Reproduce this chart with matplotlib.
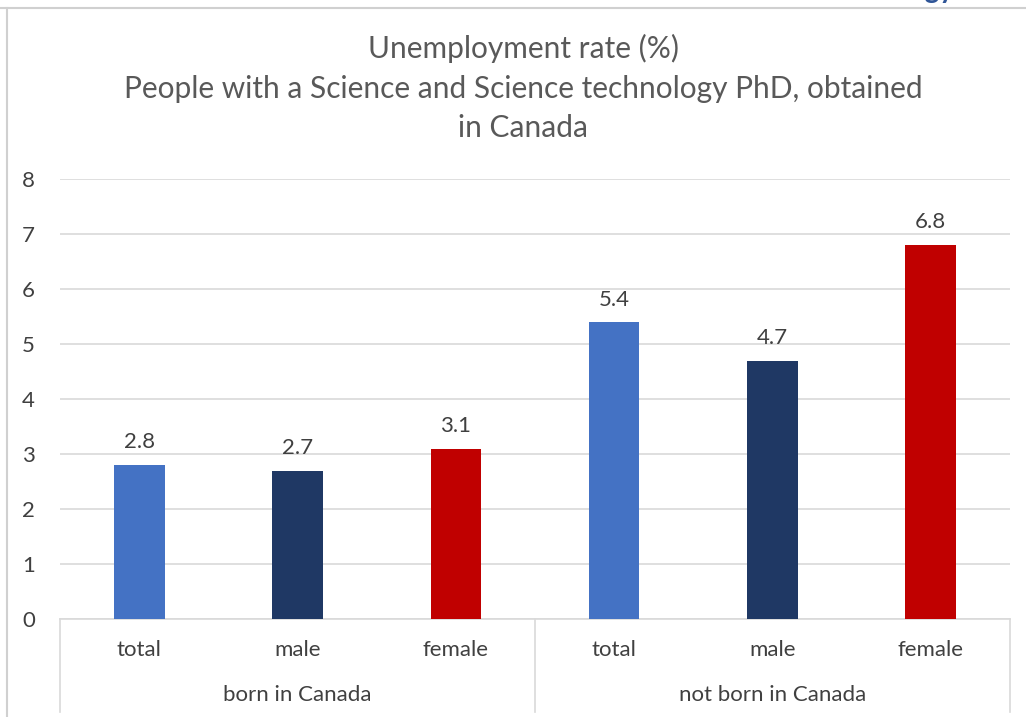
import matplotlib
matplotlib.use("Agg")
import matplotlib.pyplot as plt
import matplotlib.transforms as mtransforms
from matplotlib.lines import Line2D

plt.rcParams['font.family'] = ['Lato', 'DejaVu Sans']

groups = ["born in Canada", "not born in Canada"]
categories = ["total", "male", "female", "total", "male", "female"]
values = [2.8, 2.7, 3.1, 5.4, 4.7, 6.8]
colors = ["#4472C4", "#1F3864", "#C00000", "#4472C4", "#1F3864", "#C00000"]
yticks = [0, 1, 2, 3, 4, 5, 6, 7, 8]
title = "Unemployment rate (%)\nPeople with a Science and Science technology PhD, obtained\nin Canada"

fs = 16
fig = plt.figure(figsize=(10.26, 7.17), dpi=100)
ax = fig.add_axes([60/1026, 1-619/717, 950/1026, 440/717])

x = list(range(len(values)))
bars = ax.bar(x, values, width=0.32, color=colors, zorder=3)
for xi, v in zip(x, values):
    ax.annotate(f"{v}", (xi, v), xytext=(0, 9), textcoords="offset points",
                ha="center", va="bottom", fontsize=fs, color="#404040")

ax.set_xlim(-0.5, len(values) - 0.5)
ax.set_ylim(0, 8)
ax.set_yticks(yticks)
ax.set_yticklabels([str(t) for t in yticks], fontsize=fs, color="#404040")
ax.tick_params(axis='y', length=0, pad=18)
ax.yaxis.grid(True, color="#d9d9d9", linewidth=1.2, zorder=0)
ax.set_xticks([])
for s in ["top", "right", "left"]:
    ax.spines[s].set_visible(False)
ax.spines["bottom"].set_color("#d9d9d9")
ax.spines["bottom"].set_linewidth(1.2)

trans = mtransforms.blended_transform_factory(ax.transData, ax.transAxes)
for xi, c in zip(x, categories):
    ax.text(xi, -0.0705, c, transform=trans, ha="center", va="center",
            fontsize=fs, color="#404040")
n = len(categories) // len(groups)
for gi, g in enumerate(groups):
    center = gi * n + (n - 1) / 2
    ax.text(center, -0.173, g, transform=trans, ha="center", va="center",
            fontsize=fs, color="#404040")
for b in [-0.5, n - 0.5, len(values) - 0.5]:
    ax.plot([b, b], [0, -0.211], transform=trans, color="#d9d9d9",
            linewidth=1.2, clip_on=False)

fig.text(523/1026, 1-88/717, title, ha="center", va="center", fontsize=21.5,
         color="#595959", linespacing=1.5)

# chart frame
fig.add_artist(Line2D([0, 1], [1-8/717, 1-8/717], transform=fig.transFigure,
                      color="#d0d0d0", linewidth=1.5))
fig.add_artist(Line2D([7/1026, 7/1026], [0, 1-8/717], transform=fig.transFigure,
                      color="#d0d0d0", linewidth=1.5))
fig.text(955/1026, 1+10/717, "Technology", ha="right", va="center", fontsize=20,
         color="#2F5597", fontweight="bold")

fig.savefig("out.png", dpi=100)
